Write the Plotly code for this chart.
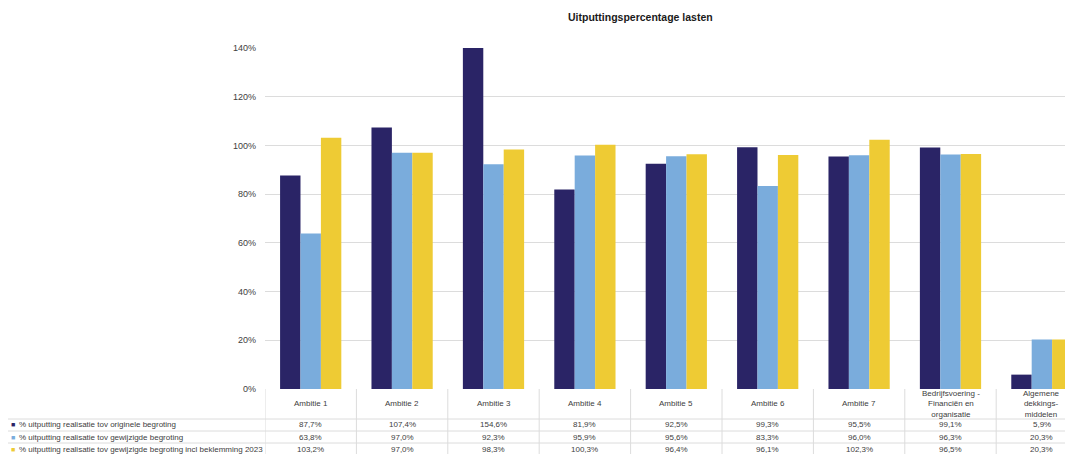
import plotly.graph_objects as go

categories = ["Ambitie 1", "Ambitie 2", "Ambitie 3", "Ambitie 4", "Ambitie 5",
              "Ambitie 6", "Ambitie 7",
              "Bedrijfsvoering -<br>Financiën en<br>organisatie",
              "Algemene<br>dekkings-<br>middelen"]
series_names = ["% uitputting realisatie tov originele begroting",
                "% uitputting realisatie tov gewijzigde begroting",
                "% uitputting realisatie tov gewijzigde begroting incl beklemming 2023"]
orig = [87.7, 107.4, 154.6, 81.9, 92.5, 99.3, 95.5, 99.1, 5.9]
gewijzigd = [63.8, 97.0, 92.3, 95.9, 95.6, 83.3, 96.0, 96.3, 20.3]
incl = [103.2, 97.0, 98.3, 100.3, 96.4, 96.1, 102.3, 96.5, 20.3]
colors = ["#2a2466", "#7aacdc", "#eecb34"]
y_ticks = [0, 20, 40, 60, 80, 100, 120, 140]

# page body has an 8px margin; compensate
OX, OY = 8, 8
WIN_W, WIN_H = 1073, 454
W, H = WIN_W - OX, WIN_H - OY
L, T = 265 - OX, 48 - OY
B = WIN_H - 389
plot_h = H - T - B
plot_w = W - L
cat_w = 91.4
x_end = -0.5 + plot_w / cat_w

def py(px):  # window pixel y -> paper y
    return (WIN_H - B - px) / plot_h

def pxp(px):  # window pixel x -> paper x
    return (px - 265) / plot_w

def fmt(v):
    return f"{v:.1f}".replace(".", ",") + "%"

idx = list(range(len(categories)))
fig = go.Figure()
for name, vals, c in zip(series_names, [orig, gewijzigd, incl], colors):
    fig.add_trace(go.Bar(x=idx, y=vals, name=name, marker=dict(color=c, line=dict(width=0)),
                         showlegend=False, hoverinfo="skip"))

font_family = "Liberation Sans, Arial, sans-serif"
annotations = []
annotations.append(dict(text="<b>Uitputtingspercentage lasten</b>", xref="paper", yref="paper",
                        x=pxp(640), y=py(17), xanchor="center", yanchor="middle", showarrow=False,
                        font=dict(size=10.5, color="#1a1a1a", family=font_family)))
gridc = "#dcdcdc"
shapes = []
for i, c in enumerate(categories):
    annotations.append(dict(text=c, xref="x", yref="paper", x=i, y=py(403.5), xanchor="center",
                            yanchor="middle", showarrow=False,
                            font=dict(size=8, color="#404040", family=font_family)))
row_y = [425, 437, 449]
for r, (name, vals, col) in enumerate(zip(series_names, [orig, gewijzigd, incl], colors)):
    annotations.append(dict(text="■", xref="paper", yref="paper", x=pxp(13), y=py(row_y[r]),
                            xanchor="center", yanchor="middle", showarrow=False,
                            font=dict(size=7, color=col, family=font_family)))
    annotations.append(dict(text=name, xref="paper", yref="paper", x=pxp(17), y=py(row_y[r]),
                            xanchor="left", yanchor="middle", showarrow=False,
                            font=dict(size=8, color="#404040", family=font_family)))
    for i, v in enumerate(vals):
        annotations.append(dict(text=fmt(v), xref="x", yref="paper", x=i, y=py(row_y[r]),
                                xanchor="center", yanchor="middle", showarrow=False,
                                font=dict(size=8, color="#404040", family=font_family)))
for yl in [419, 431, 443]:
    shapes.append(dict(type="line", xref="paper", yref="paper", x0=pxp(6), x1=1, y0=py(yl), y1=py(yl),
                       line=dict(color=gridc, width=1)))
for k in range(len(categories) + 1):
    shapes.append(dict(type="line", xref="x", yref="paper", x0=k - 0.5, x1=k - 0.5,
                       y0=py(389), y1=py(454), line=dict(color=gridc, width=1)))

fig.update_layout(
    width=W, height=H, autosize=False,
    margin=dict(l=L, r=0, t=T, b=B, pad=0),
    paper_bgcolor="white", plot_bgcolor="white",
    barmode="group", bargap=0.33, bargroupgap=0,
    font=dict(family=font_family, size=9, color="#404040"),
    xaxis=dict(range=[-0.5, x_end], showticklabels=False, showgrid=False, zeroline=False,
               showline=False, ticks="", fixedrange=True),
    yaxis=dict(range=[0, 140], tickvals=y_ticks, ticktext=[f"{v}%" for v in y_ticks],
               showgrid=True, gridcolor=gridc, gridwidth=1, zeroline=False, showline=False,
               ticks="", ticklabelstandoff=8, tickfont=dict(size=9, color="#404040"), fixedrange=True),
    annotations=annotations, shapes=shapes,
)
fig.write_html("out.html", config={"displayModeBar": False})
